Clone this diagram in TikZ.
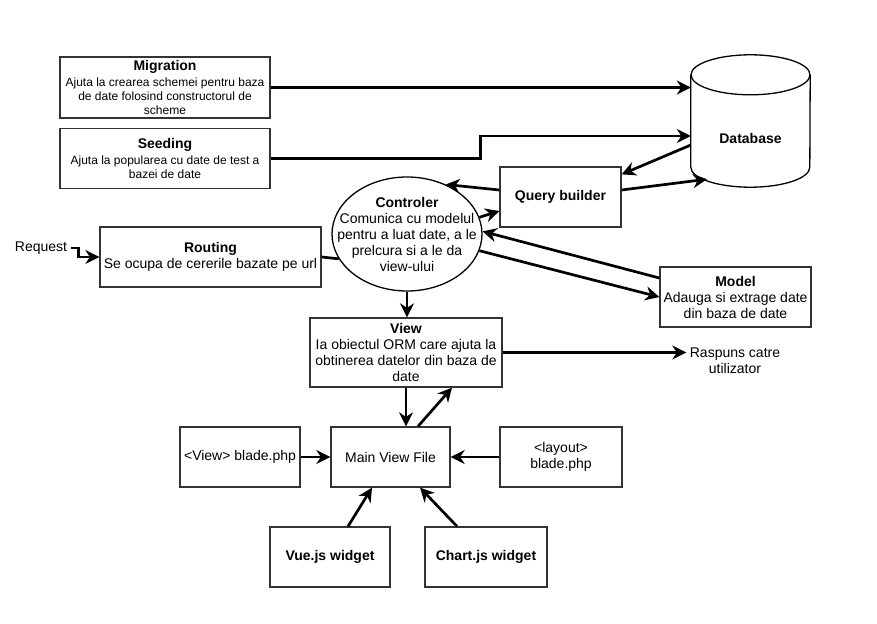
\documentclass[tikz,border=0pt]{standalone}
\usepackage{fontspec}
\setmainfont{Liberation Sans}
\usetikzlibrary{positioning,arrows.meta,shapes}
\tikzset{
diagram/.style={
    x=1pt,
    y=-1pt,
    >={Stealth[length=14pt,width=14pt,inset=4.5pt]},
    font=\fontsize{14}{16}\selectfont
},
box/.style={
    draw=black!80,
    line width=1.3pt,
    align=center,
    inner sep=1pt
},
note/.style={
    box,
    font=\fontsize{12}{14}\selectfont
},
store/.style={
    inner sep=0pt,
    font=\fontsize{14}{16}\selectfont\bfseries
},
rim/.style={
    line width=1.3pt,
    x radius=59.5pt,
    y radius=20pt
},
flow/.style={
    ->,
    line width=2.7pt
},
wire/.style={
    line width=2.7pt
}}
\newcommand{\boxtitle}[1]{{\fontsize{14}{16}\selectfont\bfseries #1}}

\begin{document}
\begin{tikzpicture}[diagram]
\useasboundingbox (0,0) rectangle (877,623);

% data side
\node[note, minimum width=210pt, minimum height=61pt]    (mig)    at (165,87.5)    {\boxtitle{Migration}\\[2pt]Ajuta la crearea schemei pentru baza\\de date folosind constructorul de\\scheme};
\node[note, minimum width=210pt, minimum height=60pt]    (seed)   [below=9pt of mig]    {\boxtitle{Seeding}\\[2pt]Ajuta la popularea cu date de test a\\bazei de date};
\node[store, minimum width=119pt, minimum height=132pt]  (db)     at (750.5,121)   {};
\node[store]    (dbtext)    at ([yshift=-17pt]db.center)    {Database};
\draw[rim]    ([yshift=-20pt]db.north) ellipse [];
\draw[rim]    ([yshift=-20pt]db.north west) -- ([yshift=20pt]db.south west) arc [start angle=180, end angle=360] -- ([yshift=-20pt]db.north east);
\node[box, minimum width=121pt, minimum height=60pt, font=\fontsize{14}{16}\selectfont\bfseries]    (qb)    at (560.5,197)    {Query builder};

% request side
\node    (request)    at (41,248)    {Request};
\node[box, minimum width=221pt, minimum height=60pt]    (routing)    at (210.5,257)    {\textbf{Routing}\\Se ocupa de cererile bazate pe url};
\node[ellipse, draw, line width=1.3pt, inner sep=0pt, minimum width=150pt, minimum height=114pt]    (ctrl)    at (407,234)    {};
\node[align=center, inner sep=0pt]    (ctrltext)    at (ctrl)    {\textbf{Controler}\\Comunica cu modelul\\pentru a luat date, a le\\prelcura si a le da\\view-ului};
\node[box, minimum width=151pt, minimum height=60pt]    (model)    at (735.5,297)    {\textbf{Model}\\Adauga si extrage date\\din baza de date};
\node[box, minimum width=192pt, minimum height=69pt]    (view)    at (406,352.5)    {\textbf{View}\\Ia obiectul ORM care ajuta la\\obtinerea datelor din baza de\\date};
\node[align=center]    (reply)    at (735,361)    {Raspuns catre\\utilizator};

% templates
\node[box, minimum width=119pt, minimum height=60pt]    (main)    at (390.5,457)    {Main View File};
\node[box, minimum width=120pt, minimum height=60pt]    (blade)   at (240,457)      {<View> blade.php};
\node[box, minimum width=122pt, minimum height=60pt]    (layout)  at (561,457)      {<layout>\\blade.php};
\node[box, minimum width=120pt, minimum height=60pt]    (vue)     at (330,557)      {\textbf{Vue.js widget}};
\node[box, minimum width=122pt, minimum height=60pt]    (chart)   at (486,557)      {\textbf{Chart.js widget}};

\path    (mig.east)    edge[flow]    (mig.east -| db.west);
\draw[flow]    (seed.east) -- ++(210,0) |- ([yshift=-15pt]db.west);
\path    ([yshift=-24pt]db.west)    edge[flow]    ([yshift=-8pt]qb.north east);
\path    ([yshift=7pt]qb.east)    edge[flow]    ([xshift=-43.5pt,yshift=8pt]db.south);
\path    ([yshift=7pt]qb.west)    edge[flow]    (ctrl.52);
\path    (ctrl.13)    edge[flow]    ([yshift=-14pt]qb.west);
\path    ([yshift=19pt]model.west)    edge[flow]    (ctrl.2);
\path    (ctrl.347)    edge[flow]    (model.west);

\draw[flow]    (request.east) -- ++(8,0) |- (routing.west);
\path    (routing.east)    edge[wire]    (ctrl.200);
\path    (ctrl.south)    edge[flow]    (ctrl.south |- view.north);
\path    (view.east)    edge[flow]    (view.east -| reply.west);

\path    (view.south)    edge[flow]    (view.south |- main.north);
\path    ([xshift=27.5pt]main.north)    edge[flow]    ([xshift=46pt]view.south);
\path    (blade)    edge[flow]    (main);
\path    (layout)    edge[flow]    (main);
\path    ([xshift=18pt]vue.north)    edge[flow]    ([xshift=-18.5pt]main.south);
\path    ([xshift=-29pt]chart.north)    edge[flow]    ([xshift=29.5pt]main.south);
\end{tikzpicture}
\end{document}
